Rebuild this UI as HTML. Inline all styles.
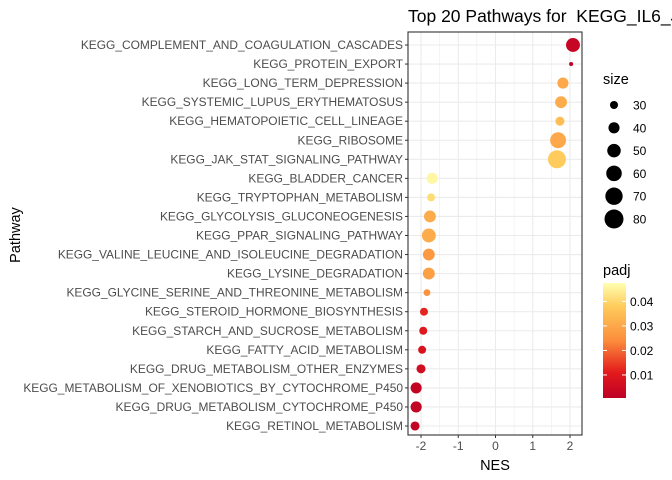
<!DOCTYPE html>
<html><head><meta charset="utf-8"><style>
body{margin:0;background:#fff;}
svg{display:block;font-family:"Liberation Sans",Arial,sans-serif;}
text{white-space:pre;}
</style></head><body>
<svg id="chart" width="672" height="480"></svg>
<script>
const pathways=["KEGG_COMPLEMENT_AND_COAGULATION_CASCADES","KEGG_PROTEIN_EXPORT","KEGG_LONG_TERM_DEPRESSION","KEGG_SYSTEMIC_LUPUS_ERYTHEMATOSUS","KEGG_HEMATOPOIETIC_CELL_LINEAGE","KEGG_RIBOSOME","KEGG_JAK_STAT_SIGNALING_PATHWAY","KEGG_BLADDER_CANCER","KEGG_TRYPTOPHAN_METABOLISM","KEGG_GLYCOLYSIS_GLUCONEOGENESIS","KEGG_PPAR_SIGNALING_PATHWAY","KEGG_VALINE_LEUCINE_AND_ISOLEUCINE_DEGRADATION","KEGG_LYSINE_DEGRADATION","KEGG_GLYCINE_SERINE_AND_THREONINE_METABOLISM","KEGG_STEROID_HORMONE_BIOSYNTHESIS","KEGG_STARCH_AND_SUCROSE_METABOLISM","KEGG_FATTY_ACID_METABOLISM","KEGG_DRUG_METABOLISM_OTHER_ENZYMES","KEGG_METABOLISM_OF_XENOBIOTICS_BY_CYTOCHROME_P450","KEGG_DRUG_METABOLISM_CYTOCHROME_P450","KEGG_RETINOL_METABOLISM"];
const nes=[2.08,2.03,1.81,1.76,1.73,1.68,1.65,-1.70,-1.73,-1.76,-1.79,-1.79,-1.79,-1.84,-1.92,-1.94,-1.97,-2.0,-2.13,-2.13,-2.16];
const sizes=[52,22,40,43,33,62,74,40,30,43,52,43,43,27,30,30,30,33,40,40,33];
const padj=[0.003,0.002,0.03,0.031,0.035,0.03,0.038,0.046,0.041,0.031,0.031,0.027,0.028,0.025,0.012,0.01,0.008,0.006,0.002,0.002,0.002];
const xTicks=[-2,-1,0,1,2];
const sizeBreaks=[30,40,50,60,70,80];
const padjBreaks=[0.01,0.02,0.03,0.04];

const NS="http://www.w3.org/2000/svg";
const svg=document.getElementById('chart');
function mk(tag,attrs,parent){const e=document.createElementNS(NS,tag);for(const k in attrs)e.setAttribute(k,attrs[k]);(parent||svg).appendChild(e);return e;}
const PL=408,PR=582,PT=32,PB=435;
const xS=v=>495.5+v*37.25;
const yS=i=>45+i*19.05;
const rS=s=>Math.sqrt(Math.max(1.48*s-28.4,3));
const stops=[[0,[189,0,38]],[0.22,[227,26,28]],[0.5,[252,141,60]],[0.8,[254,204,92]],[1,[255,255,178]]];
function cS(p){let t=(p-0.0006)/(0.0475-0.0006);t=Math.max(0,Math.min(1,t));for(let i=1;i<stops.length;i++){if(t<=stops[i][0]){const a=stops[i-1],b=stops[i];const f=(t-a[0])/(b[0]-a[0]);return 'rgb('+a[1].map((c,j)=>Math.round(c+(b[1][j]-c)*f)).join(',')+')';}}return 'rgb(255,255,178)';}

for(let v=-2.5;v<=2.5;v+=0.5){const x=xS(v);if(x<PL||x>PR)continue;
const g=mk('line',{x1:x,x2:x,y1:PT,y2:PB,stroke:'#ebebeb','stroke-width':Number.isInteger(v)?1.1:0.55});

}
pathways.forEach((p,i)=>{const g=mk('line',{x1:PL,x2:PR,y1:yS(i),y2:yS(i),stroke:'#ebebeb','stroke-width':1.1});

});
pathways.forEach((p,i)=>{const c=mk('circle',{cx:xS(nes[i]),cy:yS(i),r:rS(sizes[i]),fill:cS(padj[i])});

});
const border=mk('rect',{x:PL,y:PT,width:PR-PL,height:PB-PT,fill:'none',stroke:'#333','stroke-width':1.1});


pathways.forEach((p,i)=>{mk('line',{x1:PL-3,x2:PL,y1:yS(i),y2:yS(i),stroke:'#333'});
const t=mk('text',{x:PL-5,y:yS(i)+4,'text-anchor':'end','font-size':'11.95',fill:'#4d4d4d'});t.textContent=p;

});
xTicks.forEach(v=>{mk('line',{x1:xS(v),x2:xS(v),y1:PB,y2:PB+3,stroke:'#333'});
const t=mk('text',{x:xS(v),y:PB+15,'text-anchor':'middle','font-size':'12',fill:'#4d4d4d'});t.textContent=v<0?'-'+Math.abs(v):String(v);

});
const xt=mk('text',{x:495,y:470,'text-anchor':'middle','font-size':'14.5',fill:'#000'});xt.textContent='NES';


const yt=mk('text',{x:0,y:0,transform:'translate(20,235) rotate(-90)','text-anchor':'middle','font-size':'14.5',fill:'#000'});yt.textContent='Pathway';


const ti=mk('text',{x:408,y:22,'font-size':'17.5',fill:'#000'});ti.textContent='Top 20 Pathways for  KEGG_IL6_JAK_STAT3_SIGNALING';


const st=mk('text',{x:603,y:84,'font-size':'14.5',fill:'#000'});st.textContent='size';


sizeBreaks.forEach((s,i)=>{const y=105+i*22.8;
const c=mk('circle',{cx:614,cy:y,r:rS(s),fill:'#000'});


const t=mk('text',{x:633,y:y+4.5,'font-size':'12',fill:'#000'});t.textContent=s;

});
const pt=mk('text',{x:603,y:275,'font-size':'14.5',fill:'#000'});pt.textContent='padj';


const defs=mk('defs',{});const lg=mk('linearGradient',{id:'cb',x1:0,y1:1,x2:0,y2:0},defs);
stops.forEach(s=>mk('stop',{offset:s[0],'stop-color':'rgb('+s[1].join(',')+')'},lg));
const cb=mk('rect',{x:603,y:283,width:23,height:115,fill:'url(#cb)'});


const cy=p=>398-(p-0.0006)/(0.0475-0.0006)*115;
padjBreaks.forEach(p=>{const y=cy(p);
mk('line',{x1:603,x2:607,y1:y,y2:y,stroke:'#fff'});mk('line',{x1:622,x2:626,y1:y,y2:y,stroke:'#fff'});
const t=mk('text',{x:630,y:y+4.5,'font-size':'12',fill:'#000'});t.textContent=p.toFixed(2);

});
</script>
</body></html>
